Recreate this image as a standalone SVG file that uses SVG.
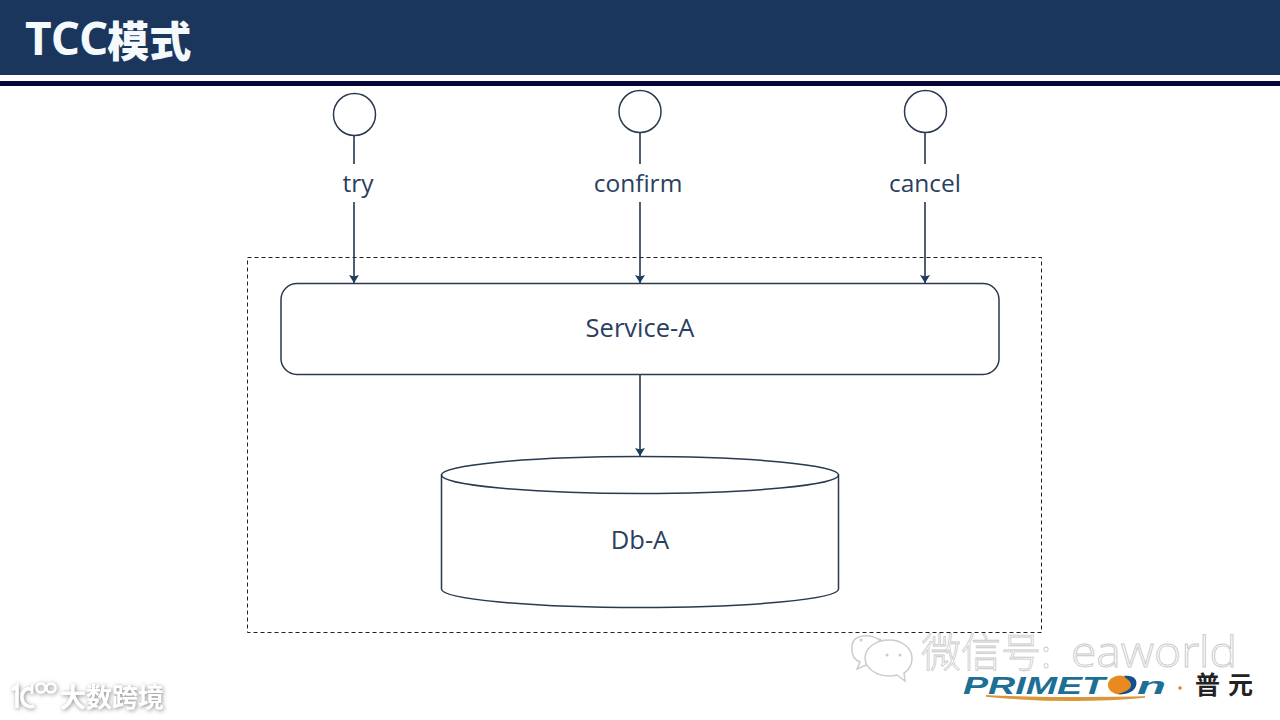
<svg xmlns="http://www.w3.org/2000/svg" width="1280" height="720" viewBox="0 0 1280 720">
<style>
.ln{fill:none;stroke:#263650;stroke-width:1.6}
.nd{fill:#fff;stroke:#2a3850;stroke-width:1.5}
.lb{font-family:"Open Sans","Noto Sans","Noto Sans CJK SC",sans-serif;font-size:24.500px;fill:#2a4060;text-anchor:middle}
.lg{font-size:25.500px}
.wm{font-family:"Noto Sans CJK SC","Noto Sans",sans-serif;fill:#fff;stroke:#c9c9c9;stroke-width:.8}
.lt{font-family:"Liberation Sans",sans-serif;font-weight:700;font-style:italic;fill:#1d6f96}
</style>
<defs>
<marker id="ah" markerWidth="9" markerHeight="10" refX="8" refY="5" orient="auto" markerUnits="userSpaceOnUse"><path d="M0 0L8 5L0 10L1.500 5Z" fill="#1f3a5f"/></marker>
<filter id="sh" x="-20%" y="-30%" width="140%" height="160%"><feDropShadow dx="1" dy="1" stdDeviation="2" flood-color="#888"/></filter>
</defs>
<rect width="1280" height="720" fill="#fff"/>
<g id="header">
<rect width="1280" height="75" fill="#1b365d"/>
<rect y="81" width="1280" height="5" fill="#05053a"/>
<text x="25" y="55" font-family="'Open Sans','Noto Sans CJK SC',sans-serif" font-weight="700" font-size="46" letter-spacing="-1" fill="#f4f9fc">TCC<tspan font-family="'Noto Sans CJK SC',sans-serif" font-weight="900" font-size="42" dy="2" letter-spacing="0">模式</tspan></text>
</g>
<g id="boundary"><rect x="247.500" y="257.500" width="794" height="375" fill="none" stroke="#222" stroke-width="1" stroke-dasharray="4 3"/></g>
<g id="connectors">
<path class="ln" d="M354 135V164M354 202V283" marker-end="url(#ah)"/>
<path class="ln" d="M640 132V164M640 202V283" marker-end="url(#ah)"/>
<path class="ln" d="M925 132V164M925 202V283" marker-end="url(#ah)"/>
<path class="ln" d="M640 374V456" marker-end="url(#ah)"/>
</g>
<g id="node-try"><circle class="nd" cx="354.500" cy="114.500" r="21"/><text class="lb" x="358" y="192">try</text></g>
<g id="node-confirm"><circle class="nd" cx="640" cy="111.500" r="21"/><text class="lb" x="638" y="192">confirm</text></g>
<g id="node-cancel"><circle class="nd" cx="925.500" cy="111.500" r="21"/><text class="lb" x="925" y="192">cancel</text></g>
<g id="node-service"><rect class="nd" x="281" y="283.500" width="718" height="91" rx="16"/><text class="lb lg" x="640" y="337">Service-A</text></g>
<g id="node-db">
<path class="nd" d="M441.500 475V589C441.500 599 530 607.500 640 607.500S838.500 599 838.500 589V475Z"/>
<ellipse class="nd" cx="640" cy="475" rx="198.500" ry="18.500"/>
<text class="lb lg" x="640" y="549">Db-A</text>
</g>
<g id="watermark-wechat">
<path d="M880 640c-12-7-30-6-28 10c0 6 3 10 8 12l-3 7l9-4c3 1 5 1 7 1" fill="#fff" stroke="#ccc" stroke-width="1.500"/>
<path d="M889 640c-13 0-24 8-24 18s11 18 24 18c3 0 5 0 8-1l8 6-1-8c5-3 8-8 8-15 0-10-10-18-23-18Z" fill="#fff" stroke="#ccc" stroke-width="1.500"/>
<g fill="#ccc"><circle cx="861" cy="640" r="1.500"/><circle cx="880" cy="640" r="1.500"/><circle cx="887" cy="655" r="1.500"/><circle cx="900" cy="655" r="1.500"/></g>
<text class="wm" x="921" y="667" font-size="40" style="font-weight:300">微信号:</text>
<text x="1071" y="667" font-family="'Open Sans',sans-serif" font-size="43" font-weight="300" fill="#fff" stroke="#c9c9c9" stroke-width=".9" textLength="166" lengthAdjust="spacingAndGlyphs">eaworld</text>
</g>
<g id="watermark-100">
<g fill="none" stroke="#fff" stroke-width="3.500" filter="url(#sh)"><path d="M12 690L17 686V708"/><path d="M33 690C25 686 21 693 22 699C23 705 29 708 34 706"/><path d="M32 684V694" stroke-width="2.500"/><circle cx="41" cy="688" r="4.500" stroke-width="2.500"/><circle cx="51" cy="688" r="4.500" stroke-width="2.500"/></g>
<text x="60" y="707" font-family="'Noto Sans CJK SC',sans-serif" font-size="26" font-weight="700" fill="#fff" filter="url(#sh)">大数跨境</text>
</g>
<g id="logo">
<text class="lt" x="963" y="694" font-size="24" textLength="142" lengthAdjust="spacingAndGlyphs">PRIMET</text>
<ellipse cx="1120" cy="685" rx="12" ry="9.500" fill="#e98a20"/>
<path d="M1124 676C1134 675 1138 680 1136 686C1134 692 1126 695 1118 694C1124 692 1132 690 1131 684C1130 680 1126 679 1124 676Z" fill="#11508f"/>
<text class="lt" x="1137" y="694" font-size="24" textLength="29" lengthAdjust="spacingAndGlyphs">n</text>
<path d="M986 696Q1070 704 1145 697Q1070 699 986 696Z" fill="#d9973c" stroke="#d9973c" stroke-width="1.500"/>
<circle cx="1180" cy="688" r="1.800" fill="#d98a2a"/>
<text x="1195" y="694" font-family="'Noto Sans CJK SC',sans-serif" font-size="25" font-weight="700" fill="#222" letter-spacing="8">普元</text>
</g>
</svg>
